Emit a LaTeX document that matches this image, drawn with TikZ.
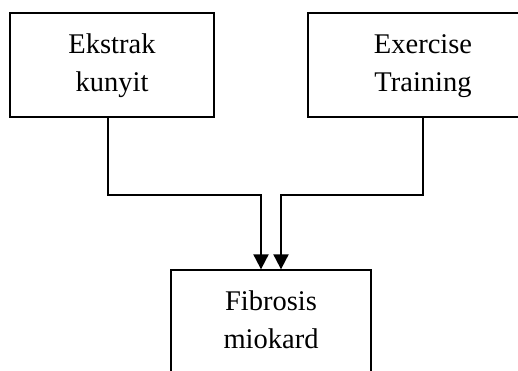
\documentclass[tikz,border=0pt]{standalone}
\usepackage{fontspec}
\setmainfont{Liberation Serif}
\usetikzlibrary{arrows.meta}
\tikzset{
  box/.style={draw=black, line width=1.3pt, rectangle, inner sep=0pt,
    align=center, font=\fontsize{28.5}{38}\selectfont},
  conn/.style={draw=black, line width=2pt,
    -{Triangle[width=15pt,length=15pt]}}
}
\begin{document}
\begin{tikzpicture}[x=1pt,y=1pt]
\clip (0,0) rectangle (518,370);
\node[box, minimum width=204pt, minimum height=104pt] (lb) at (112,305) {\strut Ekstrak\\\strut kunyit};
\node[box, minimum width=230pt, minimum height=104pt] (rb) at (423,305) {\strut Exercise\\\strut Training};
\node[box, minimum width=200pt, minimum height=104pt] (fb) at (271,48) {\strut Fibrosis\\\strut miokard};
\draw[conn] ([xshift=-4pt]lb.south) -- ++(0,-77) -| ([xshift=-10pt]fb.north);
\draw[conn] (rb.south) -- ++(0,-77) -| ([xshift=10pt]fb.north);
\end{tikzpicture}
\end{document}
